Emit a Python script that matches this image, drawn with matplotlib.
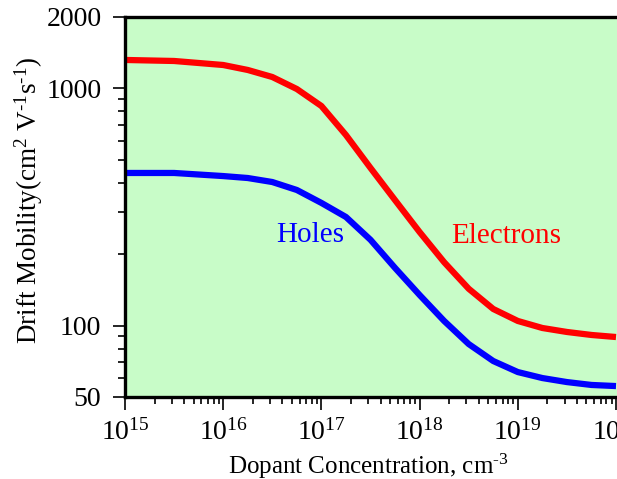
import matplotlib
matplotlib.use("Agg")
import matplotlib.pyplot as plt
from matplotlib.ticker import LogLocator, FixedLocator, FixedFormatter, NullFormatter
import numpy as np

plt.rcParams['font.family'] = ['Liberation Serif', 'DejaVu Serif']
plt.rcParams['mathtext.fontset'] = 'custom'
plt.rcParams['mathtext.rm'] = 'Liberation Serif'
plt.rcParams['mathtext.it'] = 'Liberation Serif:italic'
plt.rcParams['mathtext.bf'] = 'Liberation Serif:bold'

# Data
log_conc = [15.0, 15.5, 16.0, 16.25, 16.5, 16.75, 17.0, 17.25, 17.5, 17.75,
            18.0, 18.25, 18.5, 18.75, 19.0, 19.25, 19.5, 19.75, 20.0]
electrons = [1318, 1305, 1255, 1196, 1117, 994, 843, 636, 462, 338,
             248, 185, 143, 117.5, 104.6, 97.7, 94.0, 91.3, 89.5]
holes = [440, 440, 427, 419, 403, 373, 329, 287, 230, 175,
         134.6, 104.6, 83.6, 70.9, 63.7, 60.1, 57.8, 56.2, 55.6]
y_major = [50, 100, 1000, 2000]
y_minor = [60, 70, 80, 90, 200, 300, 400, 500, 600, 700, 800, 900]

conc = [10 ** v for v in log_conc]

W, H = 617, 479
fig = plt.figure(figsize=(W / 100, H / 100), dpi=100)
left = 125 / W
bottom = (H - 397) / H
height = 380 / H
width = (98.2 * 6) / W
ax = fig.add_axes([left, bottom, width, height])
ax.set_facecolor('#c8fcc8')

ax.plot(conc, electrons, color='#ff0000', lw=4.5, solid_capstyle='butt')
ax.plot(conc, holes, color='#0000ff', lw=4.5, solid_capstyle='butt')

ax.set_xscale('log')
ax.set_yscale('log')
ax.set_xlim(1e15, 1e21)
ax.set_ylim(50, 2000)

ax.xaxis.set_major_locator(LogLocator(base=10, numticks=20))
ax.xaxis.set_minor_locator(LogLocator(base=10, subs=np.arange(2, 10), numticks=20))
ax.xaxis.set_minor_formatter(NullFormatter())

ax.yaxis.set_major_locator(FixedLocator(y_major))
ax.yaxis.set_major_formatter(FixedFormatter([str(v) for v in y_major]))
ax.yaxis.set_minor_locator(FixedLocator(y_minor))
ax.yaxis.set_minor_formatter(NullFormatter())

for s in ['left', 'bottom', 'top']:
    ax.spines[s].set_linewidth(2.4)
    ax.spines[s].set_color('black')
ax.spines['right'].set_visible(False)

ax.tick_params(which='major', direction='out', length=9, width=1.2,
               labelsize=20, top=False, right=False)
ax.tick_params(axis='y', which='major', pad=8)
ax.tick_params(axis='x', which='major', pad=7)
ax.tick_params(which='minor', direction='out', length=5, width=1.2,
               top=False, right=False)

fig.text(368 / W, 1 - 466 / H, 'Dopant Concentration, cm$^{\u20103}$',
         ha='center', va='center', fontsize=18)
fig.text(29 / W, 1 - 200 / H, 'Drift Mobility(cm$^{2}$ V$^{\u20101}$s$^{\u20101}$)',
         ha='center', va='center', rotation=90, fontsize=19.5)

fig.text(310 / W, 1 - 235 / H, 'Holes', color='#0000ff', fontsize=21,
         ha='center', va='center')
fig.text(506 / W, 1 - 236 / H, 'Electrons', color='#ff0000', fontsize=21,
         ha='center', va='center')

fig.savefig('out.png', dpi=100)
